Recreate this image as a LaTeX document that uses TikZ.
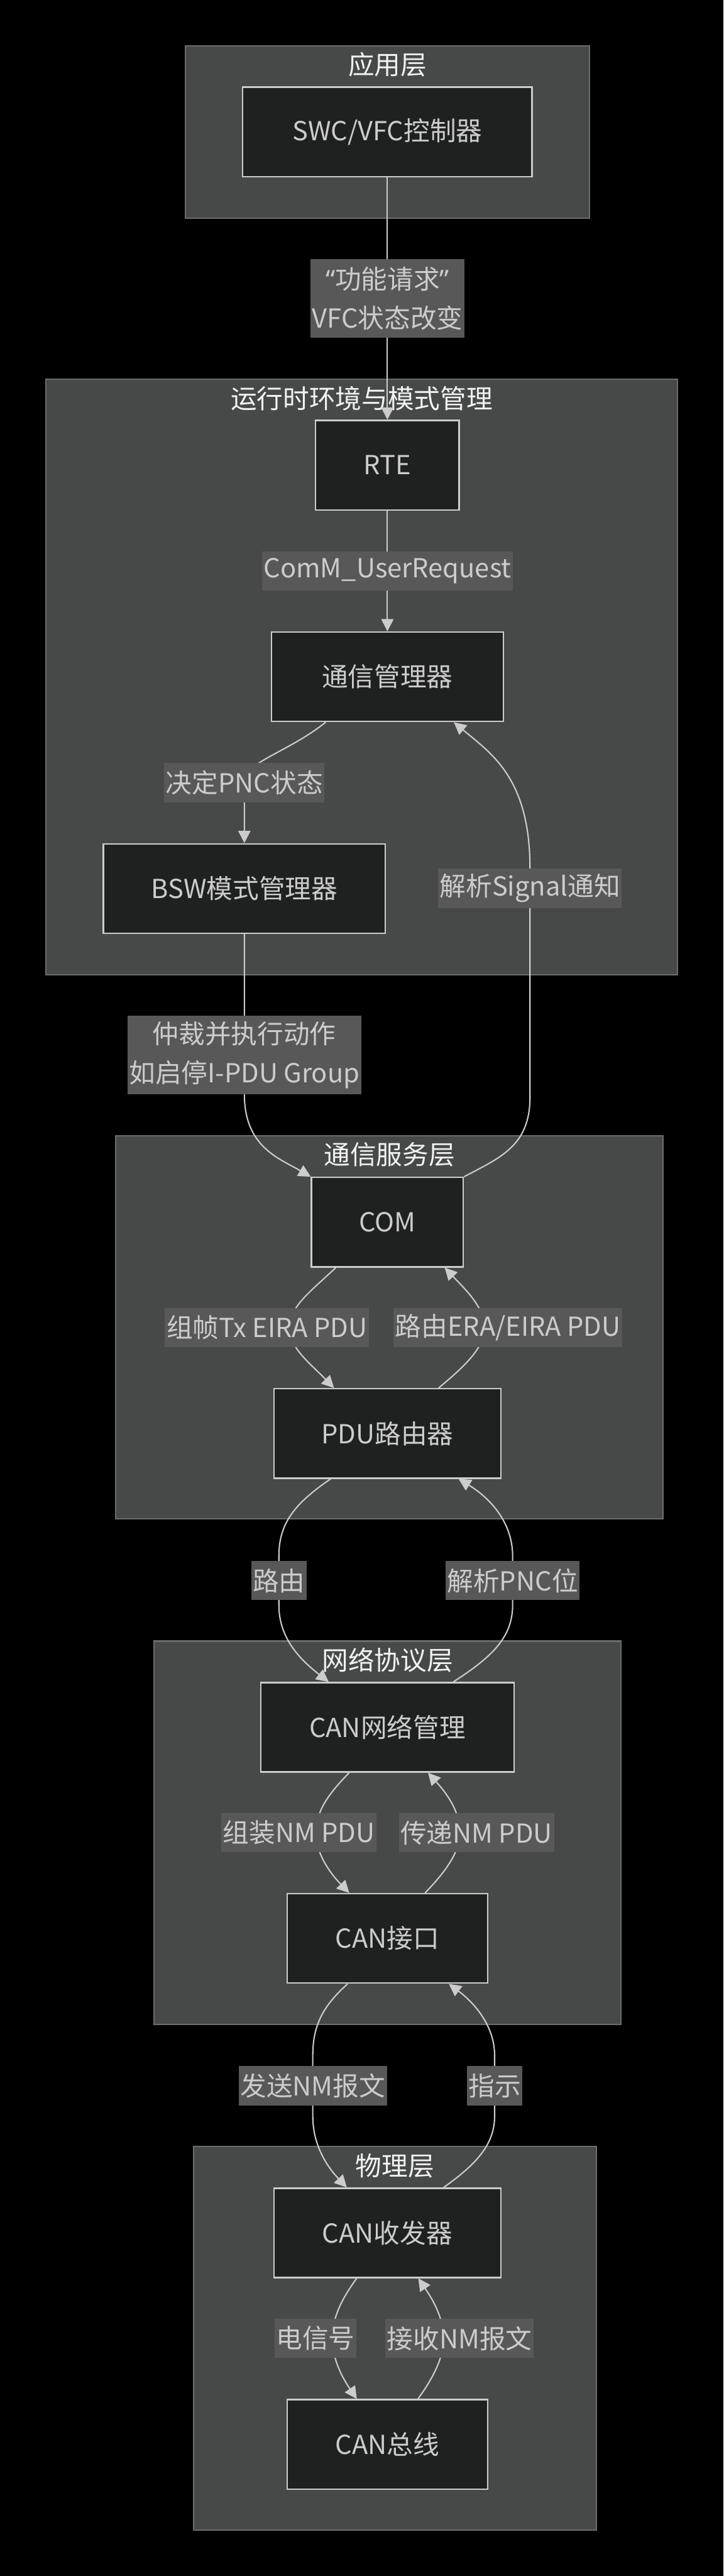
\documentclass[tikz,border=0pt]{standalone}
\usepackage{fontspec}
\setmainfont{Noto Sans CJK SC}
\newfontfamily\quotefont{Noto Sans}
\usetikzlibrary{arrows.meta}

\definecolor{zonefill}{HTML}{474948}
\definecolor{zoneline}{HTML}{6B6D6C}
\definecolor{boxfill}{HTML}{1F2020}
\definecolor{boxline}{HTML}{CCCCCC}
\definecolor{lblfill}{HTML}{585858}
\definecolor{txtgray}{HTML}{CCCCCC}
\definecolor{ttlwhite}{HTML}{F2F2F2}

\pgfdeclarelayer{bg}
\pgfdeclarelayer{edges}
\pgfsetlayers{bg,edges,main}

\begin{document}
\begin{tikzpicture}[x=1pt, y=-1pt,
  zone/.style={fill=zonefill, draw=zoneline, line width=0.8pt},
  ltitle/.style={text=ttlwhite, inner sep=0pt, font=\fontsize{16}{20}\selectfont},
  box/.style={draw=boxline, fill=boxfill, line width=0.9pt, text=txtgray,
    minimum height=54.6pt, inner sep=0pt, font=\fontsize{16}{20}\selectfont},
  lbl/.style={fill=lblfill, text=txtgray, inner xsep=1pt, inner ysep=0pt,
    minimum height=24pt, align=center, font=\fontsize{16}{24}\selectfont},
  flow/.style={draw=boxline, line width=0.8pt, -{Triangle[length=7.5pt,width=7.5pt]}}]
  \useasboundingbox (0,0) rectangle (442,1572.8);

  \begin{pgfonlayer}{bg}
  \fill[black] (0,0) rectangle (442,1572.8);
  % layers
  \draw[zone] (113.2,27.9) rectangle (360.3,133.1);
  \draw[zone] (27.9,231.6) rectangle (414.1,595.0);
  \draw[zone] (70.8,693.4) rectangle (405,927.2);
  \draw[zone] (94.1,1002) rectangle (379.5,1236.1);
  \draw[zone] (118.3,1310.6) rectangle (364.4,1544.7);
  \node[ltitle] (appT) at (236.75,39.6) {应用层};
  \node[ltitle] (rteT) at (221,243.3) {运行时环境与模式管理};
  \node[ltitle] (comT) at (237.9,705.1) {通信服务层};
  \node[ltitle] (nwT) at (236.8,1013.7) {网络协议层};
  \node[ltitle] (phyT) at (241.3,1322.3) {物理层};
  \end{pgfonlayer}

  % Application layer
  \node[box, minimum width=176.8pt] (swc) at (236.7,80.5) {SWC/VFC控制器};
  % RTE and mode management
  \node[box, minimum width=87.7pt] (rte) at (236.7,284) {RTE};
  \node[box, minimum width=141.5pt] (comm) at (236.7,413.2) {通信管理器};
  \node[box, minimum width=172.3pt] (bsw) at (149.3,542.5) {BSW模式管理器};
  % communication services
  \node[box, minimum width=92.8pt] (com) at (236.7,746.2) {COM};
  \node[box, minimum width=138.5pt] (pdur) at (236.7,875.2) {PDU路由器};
  % network protocol
  \node[box, minimum width=154.7pt] (cannm) at (236.7,1054.6) {CAN网络管理};
  \node[box, minimum width=122.5pt] (canif) at (236.7,1183.5) {CAN接口};
  % physical
  \node[box, minimum width=138.8pt] (trcv) at (236.7,1363.3) {CAN收发器};
  \node[box, minimum width=122.5pt] (bus) at (236.7,1492.4) {CAN总线};

  % edge labels
  \node[lbl, minimum height=48pt] (l1) at (236.7,182.3) {{\quotefont “}功能请求{\quotefont ”}\\VFC状态改变};
  \node[lbl] (l2) at (236.7,348.7) {ComM\_UserRequest};
  \node[lbl] (l3) at (149.3,477.8) {决定PNC状态};
  \node[lbl] (l4) at (323.8,542.4) {解析Signal通知};
  \node[lbl, minimum height=48pt] (l5) at (149.3,644.2) {仲裁并执行动作\\如启停I-PDU Group};
  \node[lbl] (l6) at (163.1,810.6) {组帧Tx EIRA PDU};
  \node[lbl] (l7) at (310.3,810.6) {路由ERA/EIRA PDU};
  \node[lbl] (l8) at (170.4,965) {路由};
  \node[lbl] (l9) at (313.2,965) {解析PNC位};
  \node[lbl] (l10) at (182.7,1119) {组装NM PDU};
  \node[lbl] (l11) at (291.1,1119) {传递NM PDU};
  \node[lbl] (l12) at (191.1,1273.4) {发送NM报文};
  \node[lbl] (l13) at (302.2,1273.4) {指示};
  \node[lbl] (l14) at (192.8,1427.7) {电信号};
  \node[lbl] (l15) at (280.7,1427.7) {接收NM报文};

  \begin{pgfonlayer}{edges}
  \draw[flow] (swc.south) -- (rte.north);
  \draw[flow] (rte.south) -- (comm.north);
  \draw[flow] ([xshift=-37.7pt]comm.south) .. controls (175,460) and (149.3,465) .. (l3.center) -- (bsw.north);
  \draw[flow] (bsw.south) -- (l5.center) -- (149.3,668) .. controls (149.3,700) and (170,707) .. (com.north west);
  \draw[flow] (com.north east) .. controls (305,707) and (323.8,700) .. (323.8,670) -- (l4.center) -- (323.8,530) .. controls (323.8,475) and (300,460) .. ([xshift=40.6pt]comm.south);
  \draw[flow] ([xshift=-31.5pt]com.south) .. controls (188,790) and (177,798) .. (177,810.6) .. controls (177,823) and (188,831) .. ([xshift=-32.6pt]pdur.north);
  \draw[flow] ([xshift=31.3pt]pdur.north) .. controls (284,834) and (296,823) .. (296,810.6) .. controls (296,798) and (284,787) .. ([xshift=35pt]com.south);
  \draw[flow] ([xshift=-34.7pt]pdur.south) .. controls (180,918) and (170.4,930) .. (170.4,950) -- (l8.center) -- (170.4,980) .. controls (170.4,1000) and (183,1013) .. ([xshift=-35.9pt]cannm.north);
  \draw[flow] ([xshift=40.3pt]cannm.north) .. controls (300,1012) and (313.2,1000) .. (313.2,980) -- (l9.center) -- (313.2,950) .. controls (313.2,930) and (300,915) .. ([xshift=43.5pt]pdur.south);
  \draw[flow] ([xshift=-23.4pt]cannm.south) .. controls (202,1094) and (193,1105) .. (193,1119) .. controls (193,1132) and (202,1144) .. ([xshift=-23.3pt]canif.north);
  \draw[flow] ([xshift=23pt]canif.north) .. controls (270,1145) and (281,1132) .. (281,1119) .. controls (281,1105) and (272,1094) .. ([xshift=24.8pt]cannm.south);
  \draw[flow] ([xshift=-24.3pt]canif.south) .. controls (197,1225) and (191.1,1237) .. (191.1,1255) -- (l12.center) -- (191.1,1292) .. controls (191.1,1310) and (200,1323) .. ([xshift=-24.8pt]trcv.north);
  \draw[flow] ([xshift=34.4pt]trcv.north) .. controls (290,1322) and (302.2,1310) .. (302.2,1292) -- (l13.center) -- (302.2,1255) .. controls (302.2,1237) and (290,1223) .. ([xshift=37.5pt]canif.south);
  \draw[flow] ([xshift=-18.8pt]trcv.south) .. controls (210,1402) and (203,1414) .. (203,1427.7) .. controls (203,1441) and (210,1453) .. ([xshift=-18.7pt]bus.north);
  \draw[flow] ([xshift=18.7pt]bus.north) .. controls (263,1454) and (271,1441) .. (271,1427.7) .. controls (271,1414) and (263,1402) .. ([xshift=18.9pt]trcv.south);
  \end{pgfonlayer}
\end{tikzpicture}
\end{document}
